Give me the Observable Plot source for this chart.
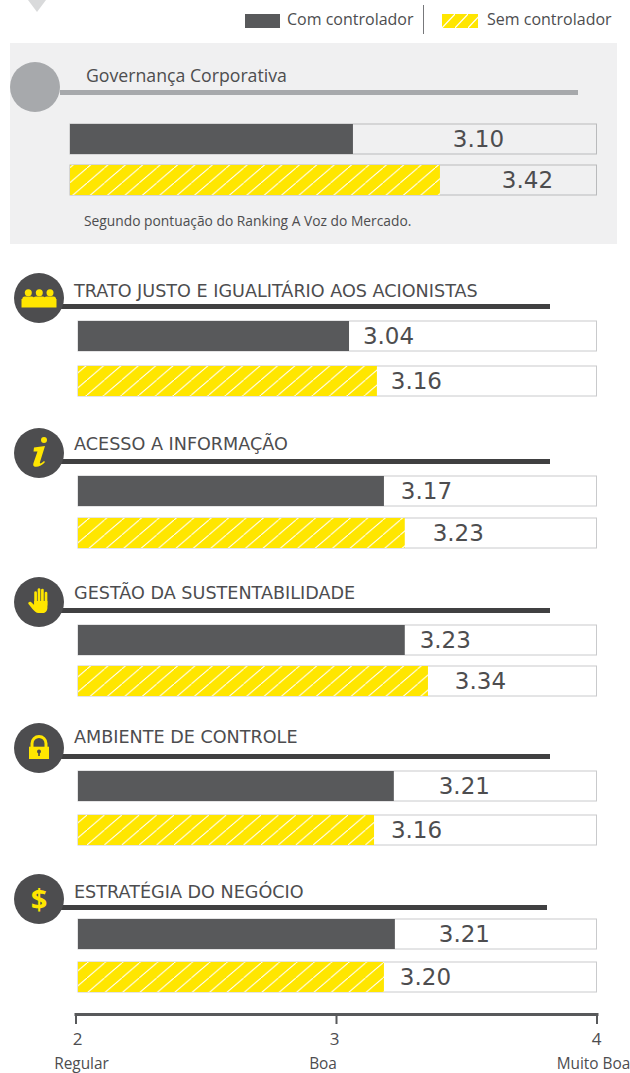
<!DOCTYPE html>
<html lang="pt">
<head>
<meta charset="utf-8">
<script src="https://cdn.jsdelivr.net/npm/d3@7"></script>
<script src="https://cdn.jsdelivr.net/npm/@observablehq/plot@0.6"></script>
<style>
  html, body { margin: 0; padding: 0; background: #fff; }
  #root { position: relative; width: 630px; height: 1073px; overflow: hidden; font-family: "Open Sans", sans-serif; color: #4d4d4f; }
  #root > * { position: absolute; }
  .plot { left: 0; }
  .plot svg { display: block; overflow: visible; }
  .t { white-space: nowrap; line-height: 1.3; transform: translateY(-50%); }
  .h { font-family: "DejaVu Sans", sans-serif; font-size: 17.6px; }
  .rule { height: 5px; }
  .disc { border-radius: 50%; width: 50px; height: 50px; }
  .disc svg { display: block; }
</style>
</head>
<body>
<div id="root"></div>
<script>
// ---- data ----
const seriesNames = ["Com controlador", "Sem controlador"];
const sectionTitles = ["TRATO JUSTO E IGUALITÁRIO AOS ACIONISTAS", "ACESSO A INFORMAÇÃO", "GESTÃO DA SUSTENTABILIDADE", "AMBIENTE DE CONTROLE", "ESTRATÉGIA DO NEGÓCIO"];
const overallTitle = "Governança Corporativa";
const overallNote = "Segundo pontuação do Ranking A Voz do Mercado.";
// printed values
const overallCom = "3.10", overallSem = "3.42";
const comLabels = ["3.04", "3.17", "3.23", "3.21", "3.21"];
const semLabels = ["3.16", "3.23", "3.34", "3.16", "3.20"];
// where each bar actually ends on the axis (the drawn bars differ a little from the printed values)
const overallComEnd = 3.065, overallSemEnd = 3.399;
const comEnds = [3.05, 3.184, 3.264, 3.222, 3.226];
const semEnds = [3.157, 3.264, 3.353, 3.146, 3.184];
const axisTicks = [2, 3, 4];
const axisNames = ["Regular", "Boa", "Muito Boa"];

// ---- layout and style ----
const DARK = "#58595b", YELLOW = "#ffe600", INK = "#4d4d4f";
const X = {domain: [2, 4], range: [75.5, 596.5]};
const FONT = '"Open Sans", sans-serif';
const VALUE_FONT = '"DejaVu Sans", sans-serif';
const W = 630, BAR = 30;
const root = document.getElementById("root");

function add(html) { const d = document.createElement("div"); d.innerHTML = html; const e = d.firstElementChild; root.append(e); return e; }

function hatchDefs(id) {
  return () => {
    const s = d3.create("svg:defs");
    const p = s.append("pattern").attr("id", id).attr("patternUnits", "userSpaceOnUse").attr("width", 17.4).attr("height", 15);
    p.append("rect").attr("width", 17.4).attr("height", 15).attr("fill", YELLOW);
    p.append("path").attr("d", "M-1.74,16.5L19.14,-1.5").attr("stroke", "#fff").attr("stroke-width", 1).attr("fill", "none");
    return s.node();
  };
}

function barsPlot({top, gap, rows, id, insetLeft, trackStroke, trackFill}) {
  const H = BAR * 2 + gap;
  const marks = [
    hatchDefs(id),
    Plot.barX(rows, {x1: () => 2, x2: () => 4, y: "series", fill: trackFill, stroke: trackStroke, strokeWidth: 1, insetLeft})
  ];
  marks.push(Plot.barX(rows, {x1: () => 2, x2: "end", y: "series", fill: d => d.series === seriesNames[0] ? DARK : `url(#${id})`, insetLeft}));
  rows.forEach(r => marks.push(Plot.text([r], {x: "end", y: "series", text: "label", dx: r.dx, dy: 0, fontSize: 23, fill: INK, fontFamily: VALUE_FONT})));
  const svg = Plot.plot({
    width: W, height: H + 2, marginTop: 1, marginBottom: 1, marginLeft: X.range[0], marginRight: W - X.range[1],
    style: {background: "transparent", overflow: "visible"},
    x: {domain: X.domain, axis: null},
    y: {domain: seriesNames, axis: null, paddingInner: gap / (BAR + gap), paddingOuter: 0},
    marks
  });
  const holder = add(`<div class="plot" style="top:${top - 1}px"></div>`);
  holder.append(svg);
}

// small pointer at the top
add(`<div style="left:28px;top:0;width:0;height:0;border-left:9px solid transparent;border-right:9px solid transparent;border-top:12px solid #d9dadb"></div>`);

// legend
add(`<div style="left:245px;top:14px;width:35px;height:14px;background:${DARK}"></div>`);
add(`<div class="t" style="left:287px;top:18.5px;font-size:16px">${seriesNames[0]}</div>`);
add(`<div style="left:423px;top:5px;width:1px;height:29px;background:#77787b"></div>`);
add(`<svg style="left:442px;top:14px" width="36" height="14"><defs><pattern id="lg" patternUnits="userSpaceOnUse" width="13" height="14"><rect width="13" height="14" fill="${YELLOW}"/><path d="M-1,15L14,-1" stroke="#fff" stroke-width="1.2"/></pattern></defs><rect width="36" height="14" fill="url(#lg)"/></svg>`);
add(`<div class="t" style="left:487px;top:18.5px;font-size:16px">${seriesNames[1]}</div>`);

// overall panel
add(`<div style="left:10px;top:43px;width:607px;height:201px;background:#f0f0f1"></div>`);
add(`<div style="left:60px;top:90px;width:518px;height:5px;background:#a7a9ac"></div>`);
add(`<div class="disc" style="left:10px;top:62px;background:#a7a9ac"></div>`);
add(`<div class="t" style="left:86px;top:74.5px;font-size:17.7px">${overallTitle}</div>`);
add(`<div class="t" style="left:84px;top:221px;font-size:13.8px">${overallNote}</div>`);
barsPlot({top: 123.5, gap: 11, id: "h0", insetLeft: -5.5, trackStroke: "#b9babc", trackFill: "none", rows: [
  {series: seriesNames[0], end: overallComEnd, label: overallCom, dx: 125},
  {series: seriesNames[1], end: overallSemEnd, label: overallSem, dx: 87}
]});

// sections
const C = YELLOW;
const icons = [
  [14.3, 25.3, 36].map(x => `<circle cx="${x}" cy="19.7" r="3.5" fill="${C}"/><rect x="${x - 6}" y="23.5" width="12" height="5" rx="2.5" fill="${C}"/>`).join("") + `<rect x="7.5" y="26" width="35" height="8.5" fill="${C}"/>`,
  `<circle cx="30" cy="12" r="3" fill="${C}"/><path d="M20,19.5 L31,18 L26,34 C25.4,36 27,36 30,33 L31,34 C27,39.5 17.5,41 19.5,35 L23.5,23.5 L19.5,23.5Z" fill="${C}"/>`,
  [[21.6, 15.5], [25, 12.5], [28.4, 13], [32, 16]].map(([x, y]) => `<path d="M${x},${y}V28" stroke="${C}" stroke-width="2.7" stroke-linecap="round"/>`).join("") + `<path d="M20.2,24 H33.4 V31 C33.4,34 31,36 29,36 H24.5 C22,36 20.5,34 18.5,32 L14.5,27 C13.5,25.5 15.5,24 17,25 L20.2,28Z" fill="${C}"/>`,
  `<path d="M18,24v-3.5a7,7 0 0 1 14,0v3.5" fill="none" stroke="${C}" stroke-width="3"/><rect x="15" y="23.7" width="20" height="12.3" fill="${C}"/><circle cx="25" cy="28.5" r="2" fill="${INK}"/><rect x="24.2" y="29" width="1.6" height="4" fill="${INK}"/>`,
  `<text x="25" y="36" text-anchor="middle" font-family="Open Sans" font-weight="bold" font-size="29" fill="${C}">$</text>`
];
const sectionDiscY = [298, 453, 602, 748, 899];
const sectionRuleY = [304, 459, 608, 754, 905];
const sectionTitleY = [290.5, 443.5, 592.5, 736.5, 891.5];
const sectionRuleEnd = [550, 550, 550, 550, 547];
const sectionBarTop = [321, 476, 625, 771, 919];
const sectionGap = [15, 12, 11, 14, 13];
const comDx = [39, 42, 40, 70, 69];
const semDx = [39, 53, 52, 42, 41];

sectionTitles.forEach((title, i) => {
  add(`<div class="rule" style="left:60px;top:${sectionRuleY[i]}px;width:${sectionRuleEnd[i] - 60}px;background:#404041"></div>`);
  add(`<div class="disc" style="left:14px;top:${sectionDiscY[i] - 25}px;background:${INK}"><svg width="50" height="50">${icons[i]}</svg></div>`);
  add(`<div class="t h" style="left:74px;top:${sectionTitleY[i]}px">${title}</div>`);
  barsPlot({top: sectionBarTop[i], gap: sectionGap[i], id: "h" + (i + 1), insetLeft: 2.5, trackStroke: "#c9cacc", trackFill: "#fff", rows: [
    {series: seriesNames[0], end: comEnds[i], label: comLabels[i], dx: comDx[i]},
    {series: seriesNames[1], end: semEnds[i], label: semLabels[i], dx: semDx[i]}
  ]});
});

// axis
const axisRows = axisTicks.map((t, i) => ({t, name: axisNames[i]}));
const numDx = [1.5, -2, -0.5];
const nameDx = [5.5, -13.5, -3.5];
const axisPlot = Plot.plot({
  width: W, height: 60, marginTop: 2, marginBottom: 48, marginLeft: X.range[0], marginRight: W - X.range[1],
  style: {background: "transparent", overflow: "visible"},
  x: {domain: X.domain, axis: null},
  marks: [
    Plot.frame({anchor: "top", stroke: DARK, strokeWidth: 3}),
    Plot.ruleX(axisTicks, {stroke: DARK, strokeWidth: 2}),
    ...axisRows.map((r, i) => Plot.text([r], {x: "t", text: d => String(d.t), frameAnchor: "bottom", dy: 20.5, dx: numDx[i], fontSize: 17, fill: INK, fontFamily: FONT})),
    ...axisRows.map((r, i) => Plot.text([r], {x: "t", text: "name", frameAnchor: "bottom", dy: 44.5, dx: nameDx[i], fontSize: 15.4, fill: INK, fontFamily: FONT}))
  ]
});
const axisHolder = add(`<div class="plot" style="top:1011.5px"></div>`);
axisHolder.append(axisPlot);
</script>
</body>
</html>
